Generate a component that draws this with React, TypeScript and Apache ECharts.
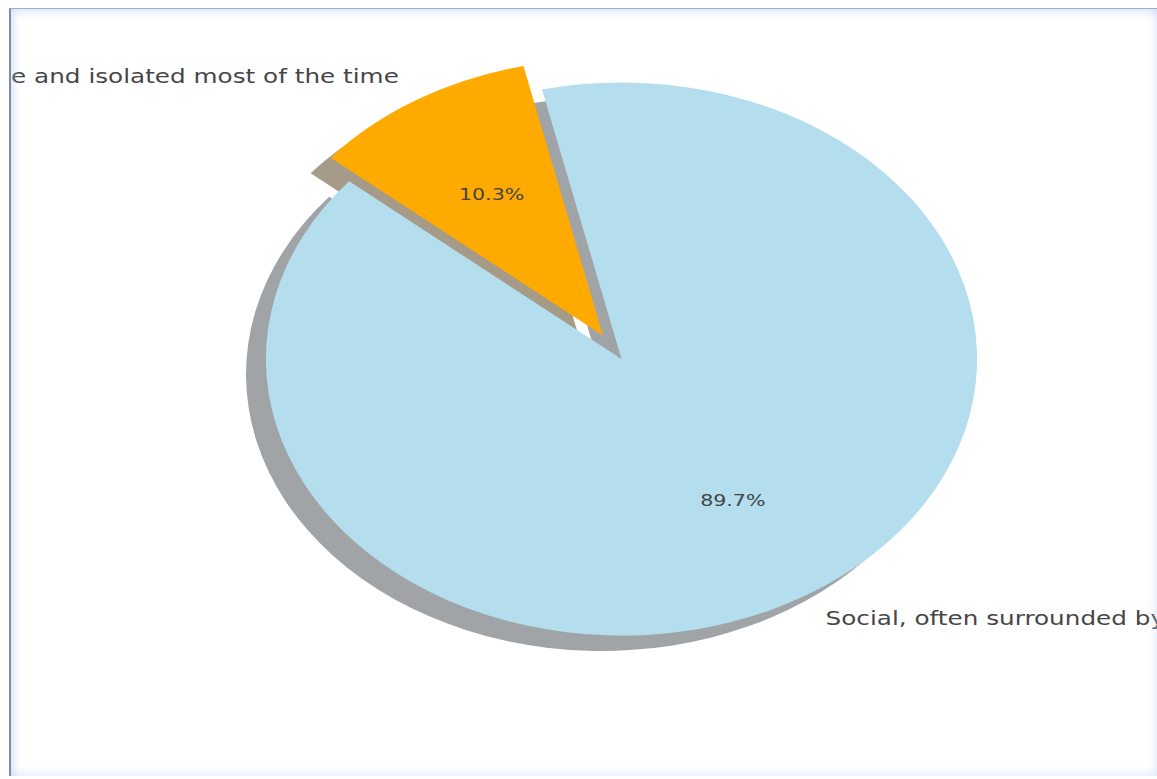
import React, { useEffect, useRef } from "react";
import * as echarts from "echarts";

const categories = ["Social, often surrounded by", "Alone and isolated most of the time"];
const values = [89.7, 10.3];
const sliceColors = ["#b4deed", "#ffaa00"];
const shadowColors = ["#a0a4a7", "#a69b88"];
const explode = [0, 0.1];
const START_ANGLE = 140;

// frame offset of chart inside the page
const OX = 11;
const OY = 9;

export default function App() {
  const ref = useRef<HTMLDivElement>(null);
  useEffect(() => {
    const chart = echarts.init(ref.current as HTMLDivElement, null, { renderer: "svg" });
    const total = values.reduce((a, b) => a + b, 0);
    const starts: number[] = [];
    let acc = START_ANGLE;
    values.forEach((v) => {
      starts.push(acc);
      acc += (v / total) * 360;
    });
    const CX = 621.5 - OX;
    const CY = 359 - OY;
    const RY = 276.5;
    const SX = 355.5 / 276.5;
    const SHX = -0.056;
    const SHY = 0.056;
    const D = Math.PI / 180;

    chart.setOption({
      animation: false,
      series: [
        {
          type: "custom",
          coordinateSystem: "none",
          data: values.map((v, i) => ({ value: v, name: categories[i] })),
          renderItem: (params: any) => {
            const i = params.dataIndex;
            const a1 = starts[i];
            const a2 = a1 + (values[i] / total) * 360;
            const mid = ((a1 + a2) / 2) * D;
            const ex = explode[i] * Math.cos(mid) * RY;
            const ey = -explode[i] * Math.sin(mid) * RY;
            const sector = (dx: number, dy: number, fill: string, z2: number) => ({
              type: "sector",
              z2,
              shape: {
                cx: ex + dx,
                cy: ey + dy,
                r0: 0,
                r: RY,
                startAngle: -a2 * D,
                endAngle: -a1 * D,
                clockwise: true,
              },
              style: { fill },
            });
            const lx = ex + 1.1 * RY * Math.cos(mid);
            const ly = ey - 1.1 * RY * Math.sin(mid);
            const px = ex + 0.6 * RY * Math.cos(mid);
            const py = ey - 0.6 * RY * Math.sin(mid);
            return {
              type: "group",
              x: CX,
              y: CY,
              scaleX: SX,
              scaleY: 1,
              children: [
                sector(SHX * RY, SHY * RY, shadowColors[i], 0),
                sector(0, 0, sliceColors[i], 1),
                {
                  type: "text",
                  z2: 2,
                  x: lx,
                  y: ly,
                  style: {
                    text: categories[i],
                    align: Math.cos(mid) > 0 ? "left" : "right",
                    verticalAlign: "middle",
                    fontSize: 19.2,
                    fontFamily: "DejaVu Sans",
                    fill: "#464646",
                  },
                },
                {
                  type: "text",
                  z2: 2,
                  x: px,
                  y: py,
                  style: {
                    text: values[i].toFixed(1) + "%",
                    align: "center",
                    verticalAlign: "middle",
                    fontSize: 16,
                    fontFamily: "DejaVu Sans",
                    fill: "#444444",
                  },
                },
              ],
            };
          },
        },
      ],
    });
    return () => chart.dispose();
  }, []);

  return (
    <div
      style={{
        position: "fixed",
        left: 0,
        top: 0,
        width: 1157,
        height: 779,
        background: "#ffffff",
        overflow: "hidden",
      }}
    >
      <div
        style={{
          position: "absolute",
          left: 9,
          top: 8,
          width: 1148,
          height: 768,
          borderTop: "1px solid #9fadcc",
          borderLeft: "2px solid #7f8cae",
          overflow: "hidden",
          boxSizing: "border-box",
        }}
      >
        <div ref={ref} style={{ position: "absolute", left: 0, top: 0, width: 1146, height: 767 }} />
        <div
          style={{
            position: "absolute",
            left: 0,
            top: 0,
            right: 0,
            bottom: 0,
            pointerEvents: "none",
            boxShadow:
              "inset 7px 7px 10px -5px rgba(175,195,240,0.55), inset -7px -7px 10px -5px rgba(190,208,245,0.45)",
          }}
        />
      </div>
    </div>
  );
}
